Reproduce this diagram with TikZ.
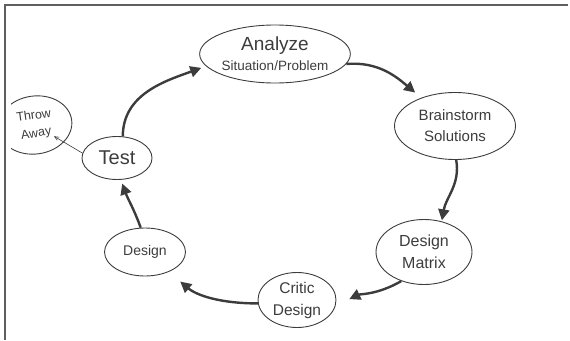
\documentclass[tikz,border=0pt]{standalone}
\usepackage{fontspec}
\setmainfont{Liberation Sans}
\definecolor{pencil}{RGB}{60, 60, 60}
\definecolor{frame}{RGB}{95, 95, 95}
\usetikzlibrary{shapes.geometric, arrows, arrows.meta}

\begin{document}
\begin{tikzpicture}[
                x=1pt, y=-1pt,
                phase/.style={ellipse, draw=pencil, line width=0.9pt, inner sep=0pt, align=center, text=pencil},
                flow/.style={->, >={Triangle[length=11pt, width=11pt]}, draw=pencil, line width=2.4pt},
                discard/.style={->, >=angle 45, draw=pencil, line width=0.6pt}
            ]%
            % Bounding box and frame
            \useasboundingbox (0,0) rectangle (570,340);
            \draw[frame, line width=2pt] (5,340) -- (5,5) -- (568,5);
            %
            % === Design cycle ===
            \node[phase, minimum width=145, minimum height=58, font=\fontsize{13.5}{20}\selectfont] (analyze) at (275,54) {{\fontsize{19}{20}\selectfont Analyze}\\Situation/Problem};
            \node[phase, minimum width=121, minimum height=67, font=\fontsize{15}{21}\selectfont] (brainstorm) at (455,126) {Brainstorm\\Solutions};
            \node[phase, minimum width=96, minimum height=65, font=\fontsize{16}{22}\selectfont] (matrix) at (424,252) {Design\\Matrix};
            \node[phase, minimum width=78, minimum height=55, font=\fontsize{15.5}{22}\selectfont] (critic) at (297,300) {Critic\\Design};
            \node[phase, minimum width=81, minimum height=48, font=\fontsize{14}{16}\selectfont] (design) at (145,252) {Design};
            \node[phase, minimum width=70, minimum height=43, font=\fontsize{20}{22}\selectfont] (test) at (117,158) {Test};
            %
            % Rejected branch (cut by the frame)
            \begin{scope}
                \clip (11,0) rectangle (570,340);
                \node[phase, minimum width=74, minimum height=58, font=\fontsize{12.5}{18}\selectfont, rotate=8] (throw) at (35,125) {Throw\\Away};
            \end{scope}
            %
            % Arrows of the cycle
            \draw[flow, shorten >=5pt] (test.75) to[out=90, in=200] (analyze.190);
            \draw[flow, shorten >=8pt] (analyze.-8) to[out=5, in=140] (brainstorm.140);
            \draw[flow, shorten >=1pt] (brainstorm.-88) to[out=-80, in=80] (matrix.60);
            \draw[flow, shorten >=15pt] (matrix.232) to[out=210, in=25] (critic.-8);
            \draw[flow, shorten >=15pt] (critic.185) to[out=180, in=-40] (design.-40);
            \draw[flow, shorten >=4pt] (design.100) to[out=110, in=-70] (test.-80);
            \draw[discard, shorten >=22pt] (test.172) -- (throw.center);
        \end{tikzpicture}
\end{document}
